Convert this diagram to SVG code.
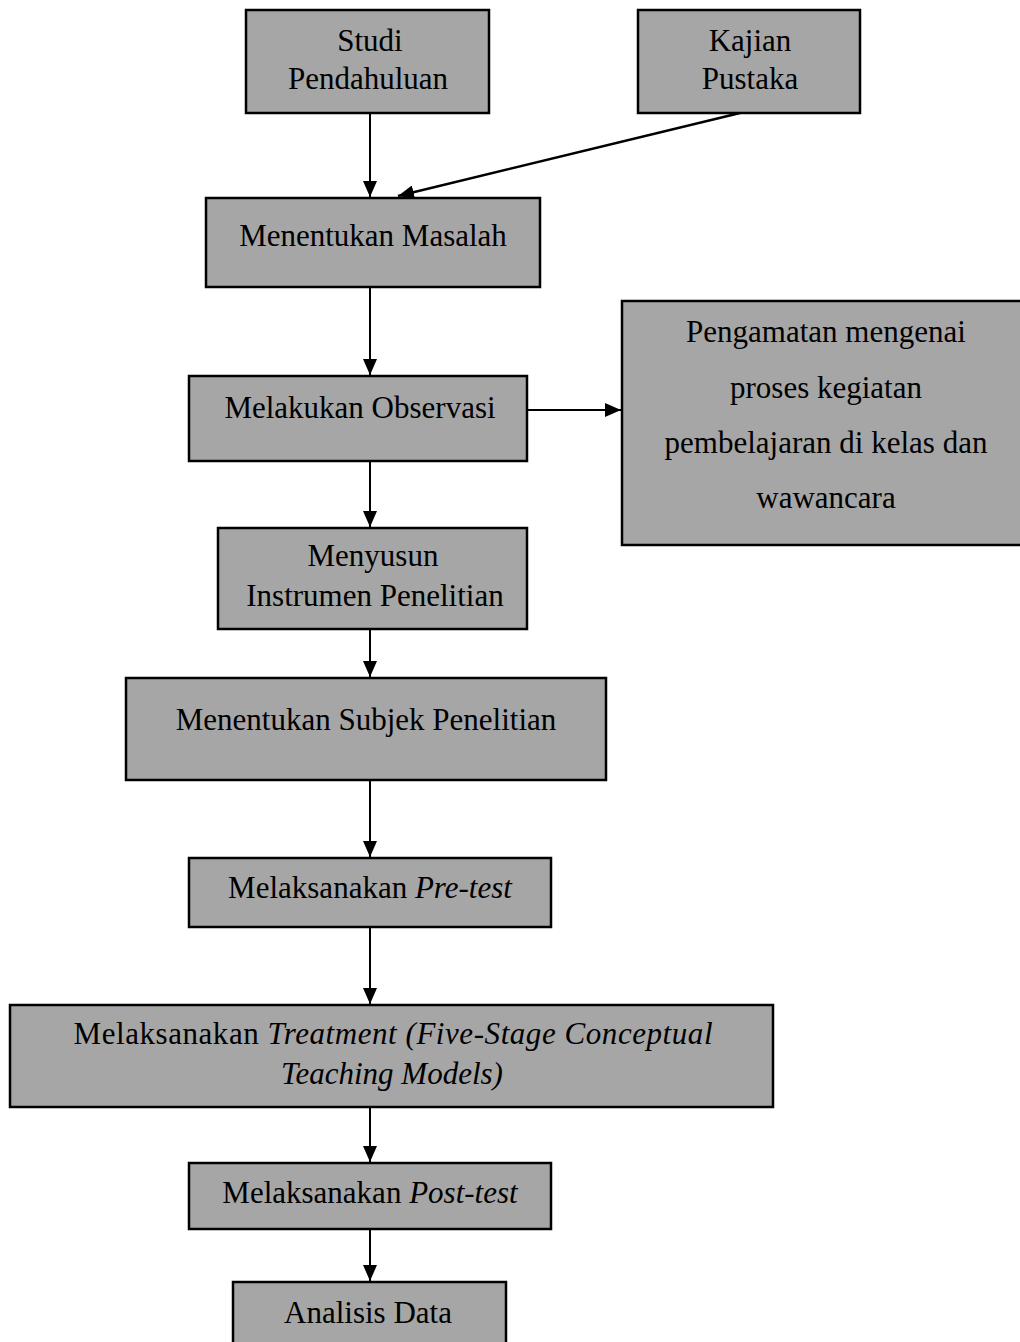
<svg xmlns="http://www.w3.org/2000/svg" width="1020" height="1342" viewBox="0 0 1020 1342">
<style>
.box{fill:#a6a6a6;stroke:#000;stroke-width:2.5}
.t{font-family:"Liberation Serif","Times New Roman",serif;font-size:31px;fill:#000;text-anchor:middle}
.i{font-style:italic}
.c{stroke:#000;stroke-width:2;fill:none}
</style>
<defs>
<marker id="ah" markerWidth="16" markerHeight="14" refX="16" refY="7" orient="auto" markerUnits="userSpaceOnUse" viewBox="0 0 16 14">
<path d="M0,0 L16,7 L0,14 z" fill="#000"/>
</marker>
</defs>
<rect width="1020" height="1342" fill="#fff"/>
<g id="connectors">
<line class="c" x1="370" y1="113" x2="370" y2="197" marker-end="url(#ah)"/>
<line class="c" x1="740" y1="113" x2="398" y2="196" marker-end="url(#ah)" style="stroke-width:2.5"/>
<line class="c" x1="370" y1="287" x2="370" y2="375" marker-end="url(#ah)"/>
<line class="c" x1="527" y1="410" x2="621" y2="410" marker-end="url(#ah)"/>
<line class="c" x1="370" y1="461" x2="370" y2="527" marker-end="url(#ah)"/>
<line class="c" x1="370" y1="629" x2="370" y2="677" marker-end="url(#ah)"/>
<line class="c" x1="370" y1="780" x2="370" y2="857" marker-end="url(#ah)"/>
<line class="c" x1="370" y1="927" x2="370" y2="1004" marker-end="url(#ah)"/>
<line class="c" x1="370" y1="1107" x2="370" y2="1162" marker-end="url(#ah)"/>
<line class="c" x1="370" y1="1229" x2="370" y2="1281" marker-end="url(#ah)"/>
</g>
<g id="studi"><rect class="box" x="246" y="10" width="243" height="103"/>
<text class="t" x="370" y="51">Studi</text><text class="t" x="368" y="89">Pendahuluan</text></g>
<g id="kajian"><rect class="box" x="638" y="10" width="222" height="103"/>
<text class="t" x="750" y="51">Kajian</text><text class="t" x="750" y="89">Pustaka</text></g>
<g id="masalah"><rect class="box" x="206" y="198" width="334" height="89"/>
<text class="t" x="373" y="246">Menentukan  Masalah</text></g>
<g id="observasi"><rect class="box" x="189" y="376" width="338" height="85"/>
<text class="t" x="360" y="418">Melakukan  Observasi</text></g>
<g id="pengamatan"><rect class="box" x="622" y="301" width="400" height="244"/>
<text class="t" x="826" y="342">Pengamatan  mengenai</text>
<text class="t" x="826" y="398">proses kegiatan</text>
<text class="t" x="826" y="453">pembelajaran  di kelas dan</text>
<text class="t" x="826" y="508">wawancara</text></g>
<g id="instrumen"><rect class="box" x="218" y="528" width="309" height="101"/>
<text class="t" x="373" y="566">Menyusun</text><text class="t" x="375" y="606">Instrumen  Penelitian</text></g>
<g id="subjek"><rect class="box" x="126" y="678" width="480" height="102"/>
<text class="t" x="366" y="730">Menentukan  Subjek Penelitian</text></g>
<g id="pretest"><rect class="box" x="189" y="858" width="362" height="69"/>
<text class="t" x="370" y="898">Melaksanakan  <tspan class="i">Pre-test</tspan></text></g>
<g id="treatment"><rect class="box" x="10" y="1005" width="763" height="102"/>
<text class="t" x="393" y="1044" textLength="639">Melaksanakan  <tspan class="i">Treatment (Five-Stage Conceptual</tspan></text>
<text class="t i" x="392" y="1084">Teaching Models)</text></g>
<g id="posttest"><rect class="box" x="189" y="1163" width="362" height="66"/>
<text class="t" x="370" y="1203">Melaksanakan  <tspan class="i">Post-test</tspan></text></g>
<g id="analisis"><rect class="box" x="233" y="1282" width="273" height="70"/>
<text class="t" x="368" y="1323">Analisis  Data</text></g>
</svg>
